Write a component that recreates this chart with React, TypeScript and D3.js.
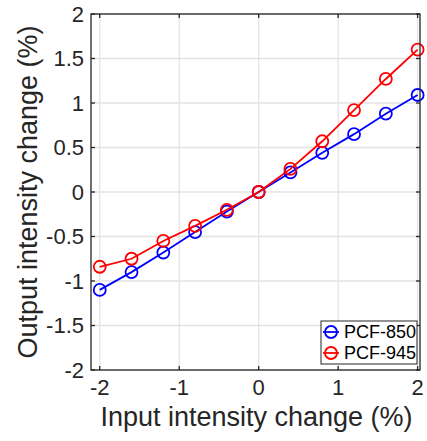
import React from "react";
import * as d3 from "d3";

const xValues = [-2, -1.6, -1.2, -0.8, -0.4, 0, 0.4, 0.8, 1.2, 1.6, 2];
const pcf850 = [-1.1, -0.9, -0.68, -0.45, -0.22, 0, 0.22, 0.44, 0.65, 0.88, 1.09];
const pcf945 = [-0.84, -0.75, -0.55, -0.38, -0.2, 0, 0.26, 0.57, 0.92, 1.27, 1.6];
const xTicks = [-2, -1, 0, 1, 2];
const yTicks = [-2, -1.5, -1, -0.5, 0, 0.5, 1, 1.5, 2];
const seriesNames = ["PCF-850", "PCF-945"];
const seriesColors = ["#0000ff", "#ff0000"];

export default function App() {
  const W = 427, H = 441;
  const left = 91, right = 420, top = 14, bottom = 370;
  const x = d3.scaleLinear().domain([-2.11, 2.03]).range([left, right]);
  const y = d3.scaleLinear().domain([-2, 2]).range([bottom, top]);
  const line = d3.line<number>().x((_, i) => x(xValues[i])).y((d) => y(d));
  const series = [pcf850, pcf945];
  const axisColor = "#262626";
  const font = "'Liberation Sans', Arial, sans-serif";
  const tl = 4;
  return (
    <svg width={W} height={H} style={{ position: "absolute", left: 0, top: 0 }} fontFamily={font}>
      <rect x={0} y={0} width={W} height={H} fill="#fff" />
      {xTicks.map((t) => (
        <line key={"gx" + t} x1={x(t)} x2={x(t)} y1={top} y2={bottom} stroke="#e3e3e3" strokeWidth={1.3} />
      ))}
      {yTicks.map((t) => (
        <line key={"gy" + t} x1={left} x2={right} y1={y(t)} y2={y(t)} stroke="#e3e3e3" strokeWidth={1.3} />
      ))}
      {series.map((s, si) => (
        <g key={si}>
          <path d={line(s) || ""} fill="none" stroke={seriesColors[si]} strokeWidth={1.8} />
          {s.map((v, i) => (
            <circle key={i} cx={x(xValues[i])} cy={y(v)} r={6} fill="none" stroke={seriesColors[si]} strokeWidth={1.8} />
          ))}
        </g>
      ))}
      <rect x={left} y={top} width={right - left} height={bottom - top} fill="none" stroke={axisColor} strokeWidth={1.3} />
      {xTicks.map((t) => (
        <g key={"tx" + t}>
          <line x1={x(t)} x2={x(t)} y1={bottom} y2={bottom - tl} stroke={axisColor} strokeWidth={1.3} />
          <line x1={x(t)} x2={x(t)} y1={top} y2={top + tl} stroke={axisColor} strokeWidth={1.3} />
          <text x={x(t)} y={395} textAnchor="middle" fontSize={22} fill={axisColor}>{String(t)}</text>
        </g>
      ))}
      {yTicks.map((t) => (
        <g key={"ty" + t}>
          <line x1={left} x2={left + tl} y1={y(t)} y2={y(t)} stroke={axisColor} strokeWidth={1.3} />
          <line x1={right} x2={right - tl} y1={y(t)} y2={y(t)} stroke={axisColor} strokeWidth={1.3} />
          <text x={left - 7} y={y(t)} dy="0.35em" textAnchor="end" fontSize={22} fill={axisColor}>{String(t)}</text>
        </g>
      ))}
      <text x={(left + right) / 2 + 1} y={426} textAnchor="middle" fontSize={27} fill={axisColor}>Input intensity change (%)</text>
      <text transform={`translate(37,${(top + bottom) / 2}) rotate(-90)`} textAnchor="middle" fontSize={27} fill={axisColor}>Output intensity change (%)</text>
      <g>
        <rect x={321} y={321} width={96} height={43} fill="#fff" stroke={axisColor} strokeWidth={1} />
        {seriesNames.map((n, i) => (
          <g key={n}>
            <line x1={323} x2={339} y1={332 + i * 21} y2={332 + i * 21} stroke={seriesColors[i]} strokeWidth={1.8} />
            <circle cx={331} cy={332 + i * 21} r={6} fill="none" stroke={seriesColors[i]} strokeWidth={1.8} />
            <text x={344} y={332 + i * 21} dy="0.36em" fontSize={18} fill="#000">{n}</text>
          </g>
        ))}
      </g>
    </svg>
  );
}
